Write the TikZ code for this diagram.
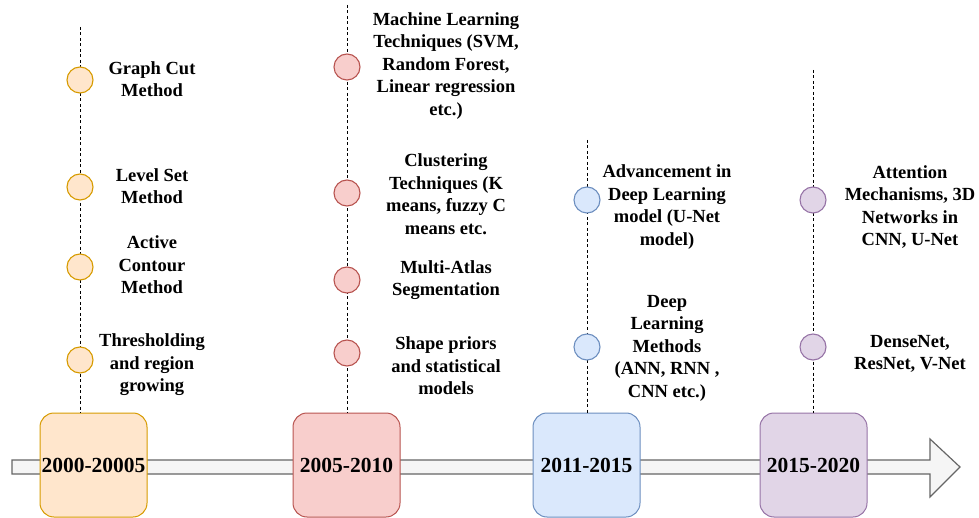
\documentclass[tikz,border=0pt]{standalone}
\usepackage{fontspec}
\setmainfont{Liberation Serif}
\usetikzlibrary{positioning}
\definecolor{orafill}{HTML}{FFE6CC}\definecolor{oraline}{HTML}{D79B00}
\definecolor{redfill}{HTML}{F8CECC}\definecolor{redline}{HTML}{B85450}
\definecolor{bluefill}{HTML}{DAE8FC}\definecolor{blueline}{HTML}{6C8EBF}
\definecolor{purfill}{HTML}{E1D5E7}\definecolor{purline}{HTML}{9673A6}
\tikzset{
  period/.style={draw, line width=1pt, rounded corners=14pt, minimum width=107pt,
    minimum height=104pt, inner sep=0pt, font=\fontsize{21.5}{24}\selectfont\bfseries},
  dot/.style={circle, draw, line width=1.1pt, minimum size=26pt, inner sep=0pt},
  item/.style={align=center, inner sep=0pt, font=\fontsize{18.5}{22.5}\selectfont\bfseries},
  guide/.style={line width=0.9pt, dash pattern=on 3pt off 2.5pt}
}
\begin{document}
\begin{tikzpicture}[x=1pt,y=-1pt]
            \useasboundingbox (0,0) rectangle (979,518);
            % time arrow
            \draw[color=black!60, fill=black!4, line width=1.2pt] (12,460) -- (930,460) -- (930,439) -- (960,467)
                -- (930,497) -- (930,474) -- (12,474) -- cycle;
            % periods
            \node[period, draw=oraline, fill=orafill] (p1) at (93.5,465) {2000-20005};
            \node[period, draw=redline, fill=redfill] (p2) at (346.5,465) {2005-2010};
            \node[period, draw=blueline, fill=bluefill] (p3) at (586.5,465) {2011-2015};
            \node[period, draw=purline, fill=purfill] (p4) at (813.5,465) {2015-2020};
            % guide lines
            \coordinate (top1) at (80,27);
            \coordinate (top2) at (347,5);
            \coordinate (top3) at (587,140);
            \coordinate (top4) at (813,70);
            \draw[guide] (top1) -- (top1 |- p1.north);
            \draw[guide] (top2) -- (top2 |- p2.north);
            \draw[guide] (top3) -- (top3 |- p3.north);
            \draw[guide] (top4) -- (top4 |- p4.north);
            % 2000-2005
            \node[dot, draw=oraline, fill=orafill] (d11) at (80,80) {};
            \node[dot, draw=oraline, fill=orafill] (d12) at (80,187) {};
            \node[dot, draw=oraline, fill=orafill] (d13) at (80,267) {};
            \node[dot, draw=oraline, fill=orafill] (d14) at (80,360) {};
            \node[item] (t11) at (152,79) {Graph Cut\\Method};
            \node[item] (t12) at (152,186) {Level Set\\Method};
            \node[item] (t13) at (152,265) {Active\\Contour\\Method};
            \node[item] (t14) at (152,365) {Thresholding\\and region\\growing};
            % 2005-2010
            \node[dot, draw=redline, fill=redfill] (d21) at (347,67) {};
            \node[dot, draw=redline, fill=redfill] (d22) at (347,193) {};
            \node[dot, draw=redline, fill=redfill] (d23) at (347,280) {};
            \node[dot, draw=redline, fill=redfill] (d24) at (347,353) {};
            \node[item] (t21) at (446,66) {Machine Learning\\Techniques (SVM,\\Random Forest,\\Linear regression\\etc.)};
            \node[item] (t22) at (446,194) {Clustering\\Techniques (K\\means, fuzzy C\\means etc.};
            \node[item] (t23) at (446,280) {Multi-Atlas\\Segmentation};
            \node[item] (t24) at (446,366) {Shape priors\\and statistical\\models};
            % 2011-2015
            \node[dot, draw=blueline, fill=bluefill] (d31) at (587,200) {};
            \node[dot, draw=blueline, fill=bluefill] (d32) at (587,347) {};
            \node[item] (t31) at (667,207) {Advancement in\\Deep Learning\\model (U-Net\\model)};
            \node[item] (t32) at (667,348) {Deep\\Learning\\Methods\\(ANN, RNN ,\\CNN etc.)};
            % 2015-2020
            \node[dot, draw=purline, fill=purfill] (d41) at (813,200) {};
            \node[dot, draw=purline, fill=purfill] (d42) at (813,347) {};
            \node[item] (t41) at (910,207) {Attention\\Mechanisms, 3D\\Networks in\\CNN, U-Net};
            \node[item] (t42) at (910,354) {DenseNet,\\ResNet, V-Net};
        \end{tikzpicture}
\end{document}
